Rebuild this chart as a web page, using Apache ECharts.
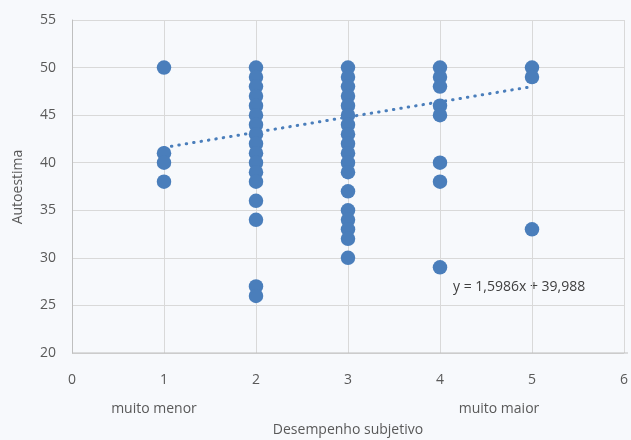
<!DOCTYPE html>
<html><head><meta charset="utf-8">
<script src="https://cdn.jsdelivr.net/npm/echarts@6/dist/echarts.min.js"></script>
<style>html,body{margin:0;padding:0;background:#f7f9fc}#c{width:631px;height:440px}</style>
</head><body><div id="c"></div>
<script>
const xTicks = [0,1,2,3,4,5,6];
const yTicks = [20,25,30,35,40,45,50,55];
const x1vals = [50,41,40,38];
const x2vals = [50,49,48,47,46,45,44,43,42,41,40,39,38,36,34,27,26];
const x3vals = [50,49,48,47,46,45,44,43,42,41,40,39,37,35,34,33,32,30];
const x4vals = [50,49,48,46,45,40,38,29];
const x5vals = [50,49,33];
const trendStart = [1, 41.6];
const trendEnd = [5, 48.0];
const equationText = 'y = 1,5986x + 39,988';
const xName = 'Desempenho subjetivo';
const yName = 'Autoestima';
const lowLabel = 'muito menor';
const highLabel = 'muito maior';

const pts = [];
[[1,x1vals],[2,x2vals],[3,x3vals],[4,x4vals],[5,x5vals]].forEach(([x,arr])=>arr.forEach(v=>pts.push([x,v])));

const font = 'Open Sans';
const chart = echarts.init(document.getElementById('c'));
chart.setOption({
  backgroundColor: '#f7f9fc',
  animation: false,
  grid: {left: 72, top: 20, right: 3, bottom: 87},
  xAxis: {
    type: 'value', min: 0, max: 6, interval: 1,
    axisLine: {show: false}, axisTick: {show: false},
    splitLine: {show: true, lineStyle: {color: '#d9d9d9', width: 1}},
    axisLabel: {color: '#595959', fontFamily: font, fontSize: 14, margin: 20}
  },
  yAxis: {
    type: 'value', min: 20, max: 55, interval: 5,
    axisLine: {show: true, lineStyle: {color: '#bfbfbf'}}, axisTick: {show: false},
    splitLine: {show: true, lineStyle: {color: '#d9d9d9', width: 1}},
    axisLabel: {color: '#595959', fontFamily: font, fontSize: 14, margin: 16}
  },
  series: [
    {type: 'line', data: [trendStart, trendEnd], symbol: 'none', z: 3,
     lineStyle: {color: '#4a7ebb', width: 3, type: [0.5, 7], cap: 'round'}},
    {type: 'scatter', data: pts, symbolSize: 14.5, z: 4,
     itemStyle: {color: '#4a7ebb', opacity: 1}}
  ],
  graphic: [
    {type: 'line', shape: {x1: 72, y1: 353, x2: 628, y2: 353}, style: {stroke: '#bfbfbf', lineWidth: 1}, z: 10},
    {type: 'text', x: 453, y: 287, style: {text: equationText, fill: '#404040', font: '14px "' + font + '"', textVerticalAlign: 'middle'}},
    {type: 'text', x: 154, y: 409, style: {text: lowLabel, fill: '#595959', font: '14px "' + font + '"', textAlign: 'center', textVerticalAlign: 'middle'}},
    {type: 'text', x: 499, y: 409, style: {text: highLabel, fill: '#595959', font: '14px "' + font + '"', textAlign: 'center', textVerticalAlign: 'middle'}},
    {type: 'text', x: 348, y: 430, style: {text: xName, fill: '#595959', font: '14px "' + font + '"', textAlign: 'center', textVerticalAlign: 'middle'}},
    {type: 'text', x: 18, y: 187, rotation: Math.PI/2, style: {text: yName, fill: '#595959', font: '14px "' + font + '"', textAlign: 'center', textVerticalAlign: 'middle'}}
  ]
});
</script></body></html>
